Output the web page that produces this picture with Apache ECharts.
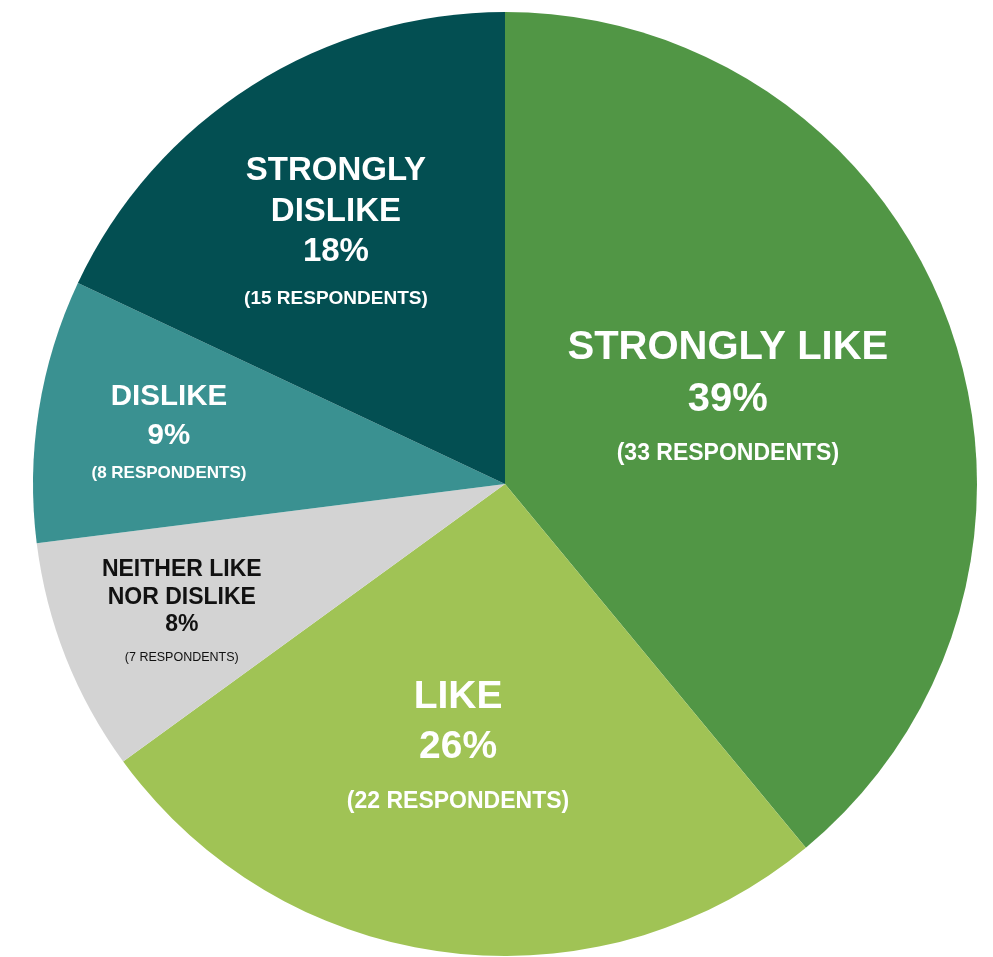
<!DOCTYPE html>
<html>
<head>
<meta charset="utf-8">
<script src="https://cdn.jsdelivr.net/npm/echarts@6/dist/echarts.min.js"></script>
<style>
html,body{margin:0;padding:0;background:#fff;}
#chart{width:993px;height:957px;}
</style>
</head>
<body>
<div id="chart"></div>
<script>
// Data
const categories = ['STRONGLY LIKE', 'LIKE', 'NEITHER LIKE\nNOR DISLIKE', 'DISLIKE', 'STRONGLY\nDISLIKE'];
const percents = [39, 26, 8, 9, 18];
const respondents = [33, 22, 7, 8, 15];

// Styles
const FONT = "'Liberation Sans', Arial, Helvetica, sans-serif";
const colors = ['#519645', '#a0c355', '#d3d3d3', '#3a9191', '#034f52'];
const textColors = ['#ffffff', '#ffffff', '#111111', '#ffffff', '#ffffff'];
const titleSizes = [40, 39, 23, 29.5, 33];
const titleLH = [52, 50, 27.5, 39.5, 40.5];
const respSizes = [23, 23, 12.5, 17, 19];
const respLH = [28, 28, 18, 22, 24];
const respWeights = ['bold', 'bold', 'normal', 'bold', 'bold'];
const respPad = [28, 31, 19, 14, 28];
const labelShift = [[-2, -15.5], [-17, 15.5], [-101, 34.5], [-100, -19.5], [-41, -58.5]];

const data = categories.map((c, i) => ({
  name: c,
  value: percents[i],
  itemStyle: { color: colors[i] },
  label: {
    fontFamily: FONT,
    formatter: () => {
      const lines = c.split('\n').map(l => '{t|' + l + '}');
      return lines.join('\n') + '\n{t|' + percents[i] + '%}\n{r|(' + respondents[i] + ' RESPONDENTS)}';
    },
    rich: {
      t: { fontSize: titleSizes[i], fontWeight: 'bold', color: textColors[i], lineHeight: titleLH[i], fontFamily: FONT, align: 'center' },
      r: { fontSize: respSizes[i], fontWeight: respWeights[i], color: textColors[i], lineHeight: respLH[i], padding: [respPad[i], 0, 0, 0], fontFamily: FONT, align: 'center' }
    }
  }
}));

const chart = echarts.init(document.getElementById('chart'), null, { renderer: 'canvas' });
chart.setOption({
  animation: false,
  textStyle: { fontFamily: FONT },
  series: [{
    type: 'pie',
    center: [505, 484],
    radius: 472,
    startAngle: 90,
    clockwise: true,
    data: data,
    label: { show: true, position: 'inside', fontFamily: FONT },
    labelLine: { show: false },
    itemStyle: { borderWidth: 0 },
    emphasis: { disabled: true },
    labelLayout: function (p) {
      const s = labelShift[p.dataIndex];
      return { dx: s[0], dy: s[1] };
    }
  }]
});
</script>
</body>
</html>
